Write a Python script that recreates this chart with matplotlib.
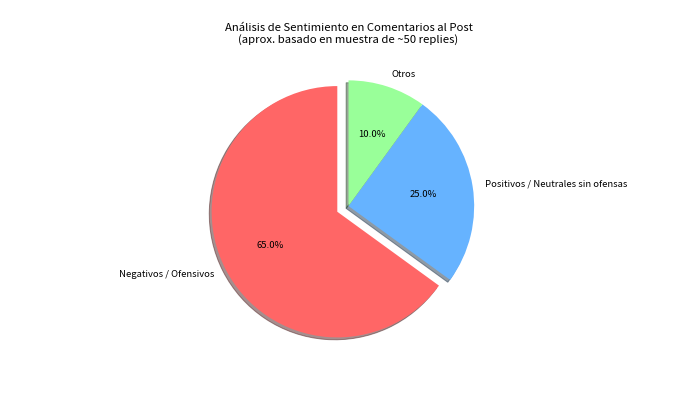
import matplotlib.pyplot as plt

plt.rcParams['font.family'] = ['Noto Sans CJK SC', 'DejaVu Sans']

labels = ["Negativos / Ofensivos", "Positivos / Neutrales sin ofensas", "Otros"]
sizes = [65, 25, 10]
colors = ["#ff6666", "#66b3ff", "#99ff99"]
explode = (0.1, 0, 0)

fig, ax = plt.subplots(figsize=(10, 6), dpi=68)

ax.pie(
    sizes,
    explode=explode,
    labels=labels,
    colors=colors,
    autopct="%1.1f%%",
    shadow=True,
    startangle=90
)

ax.set_title("Análisis de Sentimiento en Comentarios al Post\n(aprox. basado en muestra de ~50 replies)")

plt.savefig("out.png")
